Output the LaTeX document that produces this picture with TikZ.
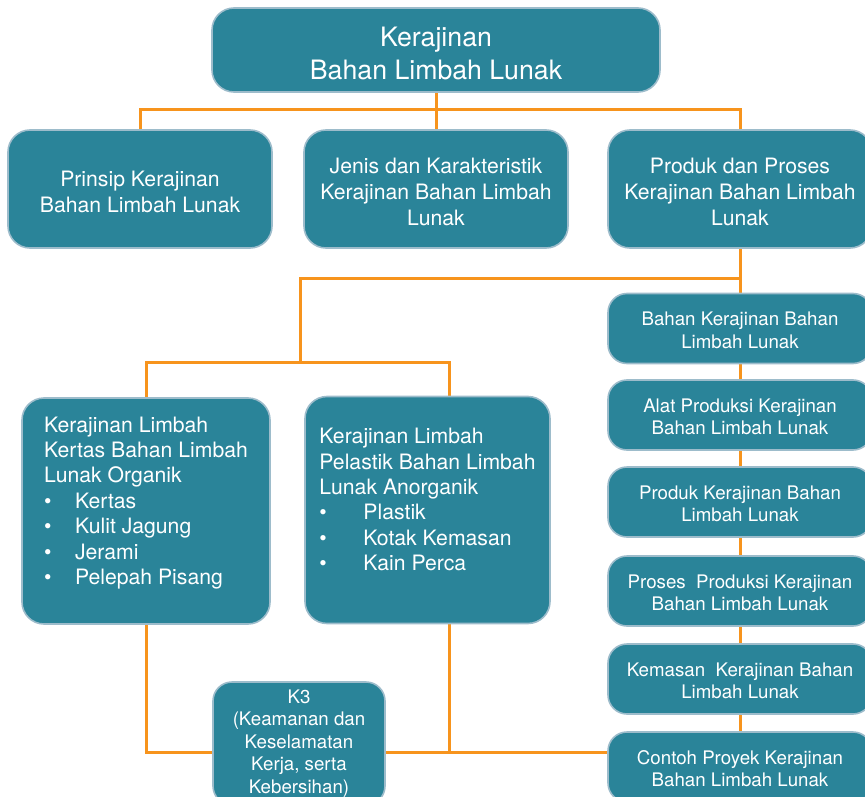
\documentclass[tikz,border=0pt]{standalone}
\usepackage{fontspec}
\setmainfont{TeX Gyre Heros}
\usetikzlibrary{backgrounds}

\definecolor{kotakteal}{HTML}{2A8499}
\definecolor{tepibiru}{HTML}{9DBCCB}
\definecolor{garisoranye}{HTML}{F7941D}
\newcommand{\titik}[1]{\makebox[#1][l]{\textbullet}}

\tikzset{
	kotak/.style={rectangle, rounded corners=22pt, fill=kotakteal, draw=tepibiru, line width=1.6pt, text=white, inner sep=0pt, align=center},
	kotaksedang/.style={kotak, minimum width=264, minimum height=118, font=\fontsize{21.2}{26}\selectfont},
	kotakkecil/.style={kotak, rounded corners=19pt, minimum width=264, minimum height=70, text height=40pt, font=\fontsize{18.7}{22.5}\selectfont},
	garis/.style={draw=garisoranye, line width=3pt},
}

\begin{document}
\begin{tikzpicture}[x=1pt, y=-1pt]
			%%%%% START %%%%%
			\useasboundingbox (0,0) rectangle (865,797);
			
			\node[kotak, minimum width=448, minimum height=84, text height=59pt, font=\fontsize{26.7}{32.5}\selectfont] (judul) at (436,50) {Kerajinan\\Bahan Limbah Lunak};
			
			\node[kotaksedang, text height=47.5pt] (prinsip) at (140,189) {Prinsip Kerajinan\\Bahan Limbah Lunak};
			\node[kotaksedang, text height=73.5pt] (jenis) at (436,189) {Jenis dan Karakteristik\\Kerajinan Bahan Limbah\\Lunak};
			\node[kotaksedang, text height=73.5pt] (produk) at (740,189) {Produk dan Proses\\Kerajinan Bahan Limbah\\Lunak};
			
			\node[kotak, align=left, minimum width=248, minimum height=226, text depth=21pt, font=\fontsize{21.2}{25.4}\selectfont] (organik) at (146,511) {Kerajinan Limbah\\Kertas Bahan Limbah\\Lunak Organik\\\titik{31pt}Kertas\\\titik{31pt}Kulit Jagung\\\titik{31pt}Jerami\\\titik{31pt}Pelepah Pisang};
			\node[kotak, align=left, minimum width=245, minimum height=227, text depth=21pt, font=\fontsize{21.2}{25.4}\selectfont] (anorganik) at (427.5,510) {Kerajinan Limbah\\Pelastik Bahan Limbah\\Lunak Anorganik\\\titik{44pt}Plastik\\\titik{44pt}Kotak Kemasan\\\titik{44pt}Kain Perca};
			
			\node[kotakkecil] (bahan) at (740,328.5) {Bahan Kerajinan Bahan\\Limbah Lunak};
			\node[kotakkecil] (alat) at (740,415) {Alat Produksi Kerajinan\\Bahan Limbah Lunak};
			\node[kotakkecil] (hasil) at (740,502) {Produk Kerajinan Bahan\\Limbah Lunak};
			\node[kotakkecil] (proses) at (740,591) {Proses~ Produksi Kerajinan\\Bahan Limbah Lunak};
			\node[kotakkecil] (kemasan) at (740,679) {Kemasan~ Kerajinan Bahan\\Limbah Lunak};
			\node[kotakkecil] (contoh) at (740,767) {Contoh Proyek Kerajinan\\Bahan Limbah Lunak};
			
			\node[kotak, rounded corners=19pt, minimum width=172, minimum height=123, font=\fontsize{18.7}{22.5}\selectfont] (k3) at (299,743.5) {K3\\(Keamanan dan\\Keselamatan\\Kerja, serta\\Kebersihan)};
			
			\coordinate (cabang1) at (436,110);
			\coordinate (cabang2) at (740,278);
			\coordinate (cabang3) at (300,362);
			\coordinate (cabang4) at (449,362);
			\coordinate (cabang5) at (449,752);
			
			\begin{pgfonlayer}{background}
			\draw[garis] (judul.south) -- (cabang1);
			\draw[garis] (prinsip.north) |- (cabang1) -| (produk.north);
			\draw[garis] (cabang1) -- (jenis.north);
			
			\draw[garis] (produk.south) -- (bahan.north);
			\draw[garis] (cabang2) -| (cabang3);
			\draw[garis] (organik.north) |- (cabang4) -- (cabang4 |- anorganik.north);
			
			\foreach \atas/\bawah in {bahan/alat, alat/hasil, hasil/proses, proses/kemasan, kemasan/contoh}
				\draw[garis] (\atas.south) -- (\bawah.north);
			
			\draw[garis] (organik.south) |- (k3.west |- cabang5);
			\draw[garis] (k3.east |- cabang5) -- (contoh.west |- cabang5);
			\draw[garis] (cabang4 |- anorganik.south) -- (cabang5);
			\end{pgfonlayer}
			
			%%%%% END %%%%%
\end{tikzpicture}
\end{document}
